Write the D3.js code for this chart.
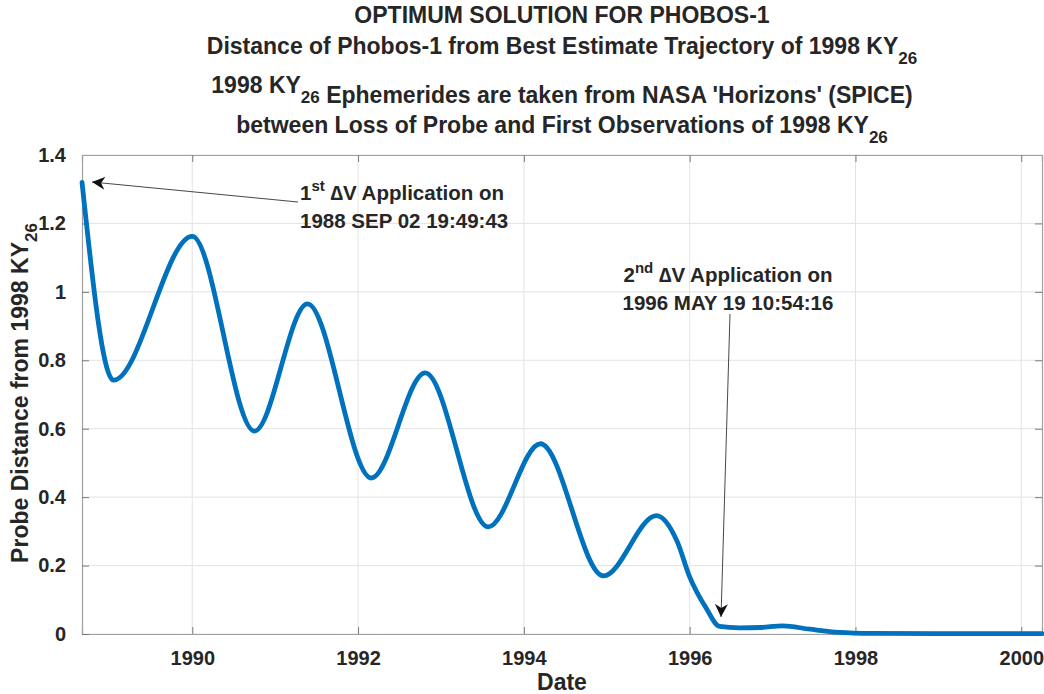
<!DOCTYPE html>
<html>
<head>
<meta charset="utf-8">
<script src="https://cdn.jsdelivr.net/npm/d3@7"></script>
<style>
  body { margin: 0; background: #fff; }
  text { font-family: "Liberation Sans", Arial, sans-serif; font-weight: bold; fill: #262626; }
</style>
</head>
<body>
<svg id="chart" width="1044" height="694"></svg>
<script>
// distance curve (decimal year, distance)
var years = [1988.67, 1989.05, 1990.00, 1990.75, 1991.39, 1992.16, 1992.81,
             1993.57, 1994.20, 1994.96, 1995.60, 1995.85, 1996.00, 1996.20, 1996.36,
             1996.60, 1996.85, 1997.12, 1997.45, 1997.80, 1998.20, 1999.00, 2000.25];
var dist  = [1.320, 0.742, 1.162, 0.593, 0.965, 0.456, 0.763,
             0.313, 0.556, 0.170, 0.346, 0.270, 0.167, 0.075, 0.022,
             0.018, 0.019, 0.024, 0.014, 0.005, 0.002, 0.001, 0.001];
var xTicks = [1990, 1992, 1994, 1996, 1998, 2000];
var yTicks = [0, 0.2, 0.4, 0.6, 0.8, 1, 1.2, 1.4];

var svg = d3.select("#chart");
var pLeft = 82, pRight = 1042, pTop = 155, pBottom = 634;

var x = d3.scaleLinear().domain([1988.67, 2000.25]).range([pLeft, pRight]);
var y = d3.scaleLinear().domain([0, 1.4]).range([pBottom, pTop]);

// grid
svg.append("g").selectAll("line").data(xTicks).enter().append("line")
  .attr("x1", d => x(d)).attr("x2", d => x(d)).attr("y1", pTop).attr("y2", pBottom)
  .attr("stroke", "#e3e3e3").attr("stroke-width", 1);
svg.append("g").selectAll("line").data(yTicks).enter().append("line")
  .attr("x1", pLeft).attr("x2", pRight).attr("y1", d => y(d)).attr("y2", d => y(d))
  .attr("stroke", "#e3e3e3").attr("stroke-width", 1);

// axes (ticks inward, box)
var xAxis = d3.axisBottom(x).tickValues(xTicks).tickSize(-7).tickPadding(17).tickFormat(d3.format("d"));
var yAxis = d3.axisLeft(y).tickValues(yTicks).tickSize(-7).tickPadding(16).tickFormat(d => d3.format("~g")(d));
svg.append("g").attr("transform", "translate(0," + pBottom + ")").call(xAxis);
svg.append("g").attr("transform", "translate(" + pLeft + ",0)").call(yAxis);
svg.append("g").attr("transform", "translate(" + pRight + ",0)")
  .call(d3.axisRight(y).tickValues(yTicks).tickSize(-7).tickFormat(""));
svg.append("g").attr("transform", "translate(0," + pTop + ")")
  .call(d3.axisTop(x).tickValues(xTicks).tickSize(-7).tickFormat(""));
svg.selectAll(".domain").attr("stroke", "#a0a0a0").attr("stroke-width", 1.2);
svg.selectAll(".tick line").attr("stroke", "#7a7a7a");
svg.selectAll(".tick text").style("font-size", "20px").style("font-family", "Liberation Sans, Arial")
  .style("font-weight", "bold").attr("fill", "#262626");

// data line
var line = d3.line().x((d, i) => x(years[i])).y(d => y(d)).curve(d3.curveMonotoneX);
svg.append("path").datum(dist).attr("d", line)
  .attr("fill", "none").attr("stroke", "#0072BD").attr("stroke-width", 4.8)
  .attr("stroke-linejoin", "round").attr("stroke-linecap", "round");

// arrow marker
svg.append("defs").append("marker").attr("id", "ah")
  .attr("viewBox", "0 0 10 10").attr("refX", 10).attr("refY", 5)
  .attr("markerWidth", 13).attr("markerHeight", 13).attr("markerUnits", "userSpaceOnUse")
  .attr("orient", "auto")
  .append("path").attr("d", "M0,0 L10,5 L0,10 L3,5 Z").attr("fill", "#111");

svg.append("line").attr("x1", 298).attr("y1", 202).attr("x2", 92).attr("y2", 182)
  .attr("stroke", "#333").attr("stroke-width", 0.9).attr("marker-end", "url(#ah)");
svg.append("line").attr("x1", 730).attr("y1", 314).attr("x2", 721).attr("y2", 617)
  .attr("stroke", "#333").attr("stroke-width", 0.9).attr("marker-end", "url(#ah)");

function label(xp, yp, anchor, sup, line2) {
  var t = svg.append("text").attr("x", xp).attr("y", yp).attr("text-anchor", anchor)
    .style("font-size", "20.5px").attr("fill", "#111");
  var a = t.append("tspan").attr("x", xp).attr("y", yp);
  a.append("tspan").text(sup[0]);
  a.append("tspan").attr("dy", -9).style("font-size", "15px").text(sup[1]);
  a.append("tspan").attr("dy", 9).text(" \u2206V Application on");
  t.append("tspan").attr("x", xp).attr("y", yp + 28).text(line2);
}
label(300, 200, "start", ["1", "st"], "1988 SEP 02 19:49:43");
label(728, 282, "middle", ["2", "nd"], "1996 MAY 19 10:54:16");

// title
var titleLines = [
  ["OPTIMUM SOLUTION FOR PHOBOS-1", ""],
  ["Distance of Phobos-1 from Best Estimate Trajectory of 1998 KY", "26"],
  ["1998 KY|26| Ephemerides are taken from NASA 'Horizons' (SPICE)", ""],
  ["between Loss of Probe and First Observations of 1998 KY", "26"]
];
var titleY = [23, 54, 93, 133];
titleLines.forEach(function (tl, i) {
  var t = svg.append("text").attr("x", 562).attr("y", titleY[i]).attr("text-anchor", "middle")
    .style("font-size", "23px").attr("fill", "#000");
  var parts = tl[0].split("|");
  parts.forEach(function (p, j) {
    if (j % 2 === 1) {
      t.append("tspan").attr("dy", 10).style("font-size", "17px").text(p);
      t.append("tspan").attr("dy", -10).text("");
    } else {
      t.append("tspan").text(p);
    }
  });
  if (tl[1]) t.append("tspan").attr("dy", 10).style("font-size", "17px").text(tl[1]);
});

// axis labels
svg.append("text").attr("x", 562).attr("y", 690).attr("text-anchor", "middle")
  .style("font-size", "23px").text("Date");
var yl = svg.append("text").attr("transform", "translate(28,393) rotate(-90)")
  .attr("text-anchor", "middle").style("font-size", "23px");
yl.append("tspan").text("Probe Distance from 1998 KY");
yl.append("tspan").attr("dy", 9).style("font-size", "17px").text("26");
</script>
</body>
</html>
